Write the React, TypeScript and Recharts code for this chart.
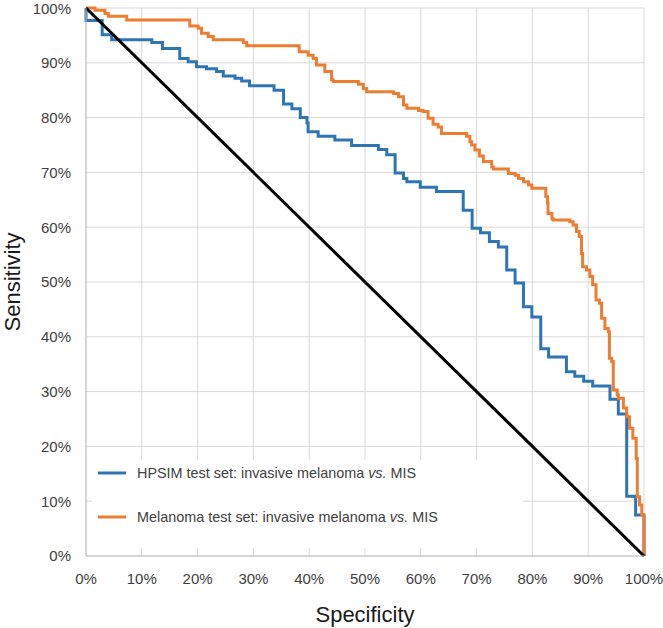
import React from 'react';
import { LineChart, Line, XAxis, YAxis, CartesianGrid, Legend, Label } from 'recharts';

// axis ticks (percent)
const ticks = [0, 10, 20, 30, 40, 50, 60, 70, 80, 90, 100];

// HPSIM test set ROC (specificity %, sensitivity %)
const hpsimSpec = [0, 0, 2.9, 4.6, 11.8, 13.7, 16.8, 18.3, 19.8, 21.6, 23.4, 24.6, 26.7, 27.9, 29.3, 33.7, 35.4, 36.9, 38.4, 39.6, 39.8, 41.6, 44.6, 47.6, 52.4, 53.9, 55.4, 56.9, 57.5, 59.9, 62.8, 67.6, 69.2, 70.7, 72.3, 73.9, 75.4, 76.9, 78.4, 79.9, 81.5, 82.9, 86.1, 87.6, 89.2, 90.8, 93.9, 95.4, 96.9, 98.5, 100];
const hpsimSens = [100, 97.7, 95.1, 94.2, 93.7, 92.6, 90.8, 90.2, 89.3, 88.9, 88.4, 87.6, 87.2, 86.7, 85.8, 85.0, 82.5, 81.6, 80.0, 79.0, 77.4, 76.6, 75.9, 74.9, 74.2, 73.2, 69.9, 68.9, 68.3, 67.3, 66.5, 63.1, 59.8, 59.0, 57.4, 56.4, 52.2, 49.8, 45.5, 43.6, 37.8, 36.3, 33.6, 32.8, 31.9, 31.0, 28.6, 25.9, 10.9, 7.5, 0];

// Melanoma test set ROC
const melSpec = [0, 1.6, 3.4, 4.0, 7.3, 18.6, 20.1, 20.7, 21.9, 22.8, 28.2, 28.8, 38.2, 39.8, 40.7, 41.3, 42.8, 44.0, 44.3, 48.8, 49.7, 50.3, 55.1, 56.0, 56.9, 57.5, 59.6, 60.4, 61.3, 62.2, 63.1, 63.7, 68.2, 68.8, 69.1, 69.7, 70.5, 71.2, 72.7, 73.0, 75.7, 76.9, 77.5, 78.4, 79.3, 79.9, 82.4, 82.7, 82.8, 83.5, 83.7, 86.7, 87.3, 87.9, 88.4, 88.8, 89.0, 89.7, 90.3, 90.8, 91.4, 92.0, 92.4, 93.0, 93.6, 93.8, 94.2, 94.5, 95.2, 95.4, 96.3, 96.9, 97.4, 98.0, 98.6, 98.8, 99.2, 99.6, 99.9, 100];
const melSens = [100, 99.6, 99.0, 98.5, 97.8, 96.7, 96.3, 95.4, 94.8, 94.2, 93.7, 93.1, 92.0, 91.4, 90.8, 89.6, 88.4, 86.9, 86.6, 86.1, 85.3, 84.7, 84.4, 83.8, 82.3, 81.7, 81.3, 81.1, 79.9, 78.8, 78.3, 77.1, 76.6, 75.6, 75.0, 74.1, 73.0, 72.0, 71.0, 70.6, 69.8, 69.5, 68.9, 68.3, 67.7, 67.1, 65.6, 64.4, 62.5, 61.6, 61.3, 61.0, 60.4, 59.2, 58.3, 55.2, 52.8, 52.2, 51.0, 49.5, 46.7, 46.1, 43.4, 41.5, 40.9, 36.1, 35.5, 30.3, 29.4, 28.8, 27.0, 25.4, 23.3, 21.5, 17.8, 10.8, 9.3, 7.5, 7.2, 0];

// reference diagonal
const chanceSpec = [0, 100];
const chanceSens = [100, 0];

const seriesNames = ['HPSIM test set: invasive melanoma', 'Melanoma test set: invasive melanoma'];
const seriesColors = ['#2E75B6', '#ED7D31'];

const toPoints = (xs: number[], ys: number[]) => xs.map((x, i) => ({ spec: x, sens: ys[i] }));

const hpsim = toPoints(hpsimSpec, hpsimSens);
const melanoma = toPoints(melSpec, melSens);
const chance = toPoints(chanceSpec, chanceSens);

const FONT = '"Liberation Sans", Arial, sans-serif';
const tickStyle = { fontSize: 15, fontFamily: FONT, fill: '#404040' };

const renderLegend = () => (
  <div style={{ position: 'relative', background: '#fff', width: 431, height: 88, fontFamily: FONT, fontSize: 14.4, color: '#404040' }}>
    {seriesNames.map((name, i) => (
      <div
        key={name}
        style={{ position: 'absolute', left: 6, top: i === 0 ? 3 : 47, height: 20, display: 'flex', alignItems: 'center', whiteSpace: 'nowrap' }}
      >
        <svg width={28} height={4}>
          <line x1={0} y1={2} x2={28} y2={2} stroke={seriesColors[i]} strokeWidth={3} />
        </svg>
        <span style={{ marginLeft: 11 }}>
          {name} <i>vs.</i> MIS
        </span>
      </div>
    ))}
  </div>
);

const App: React.FC = () => {
  return (
    <div style={{ position: 'absolute', left: 0, top: 0, background: '#fff' }}>
      <LineChart width={663} height={628} margin={{ top: 8, right: 19, bottom: 0, left: 0 }}>
        <CartesianGrid stroke='#d9d9d9' strokeWidth={1} />
        <XAxis
          dataKey='spec'
          type='number'
          domain={[0, 100]}
          ticks={ticks}
          tickFormatter={(v) => `${v}%`}
          tick={tickStyle}
          tickLine={false}
          tickMargin={11}
          height={72}
          axisLine={{ stroke: '#bfbfbf' }}
          allowDuplicatedCategory={false}
        >
          <Label
            content={(props: any) => {
              const vb = props.viewBox;
              return (
                <text x={vb.x + vb.width / 2} y={vb.y + 66} textAnchor='middle' fontFamily={FONT} fontSize={22} fill='#1a1a1a'>
                  Specificity
                </text>
              );
            }}
          />
        </XAxis>
        <YAxis
          type='number'
          domain={[0, 100]}
          ticks={ticks}
          tickFormatter={(v) => `${v}%`}
          tick={tickStyle}
          tickLine={false}
          tickMargin={9}
          width={86}
          axisLine={{ stroke: '#bfbfbf' }}
        >
          <Label
            content={(props: any) => {
              const vb = props.viewBox;
              const cx = vb.x + 20;
              const cy = vb.y + vb.height / 2;
              return (
                <text x={cx} y={cy} transform={`rotate(-90 ${cx} ${cy})`} textAnchor='middle' fontFamily={FONT} fontSize={22} fill='#1a1a1a'>
                  Sensitivity
                </text>
              );
            }}
          />
        </YAxis>
        <Legend
          layout='vertical'
          align='center'
          verticalAlign='middle'
          content={renderLegend}
          wrapperStyle={{ left: 92, top: 460, width: 431, height: 88 }}
        />
        <Line
          data={hpsim}
          dataKey='sens'
          type='stepAfter'
          stroke={seriesColors[0]}
          strokeWidth={3}
          dot={false}
          isAnimationActive={false}
        />
        <Line
          data={melanoma}
          dataKey='sens'
          type='stepAfter'
          stroke={seriesColors[1]}
          strokeWidth={3}
          dot={false}
          isAnimationActive={false}
        />
        <Line
          data={chance}
          dataKey='sens'
          type='linear'
          stroke='#000'
          strokeWidth={3}
          dot={false}
          isAnimationActive={false}
        />
      </LineChart>
    </div>
  );
};

export default App;
